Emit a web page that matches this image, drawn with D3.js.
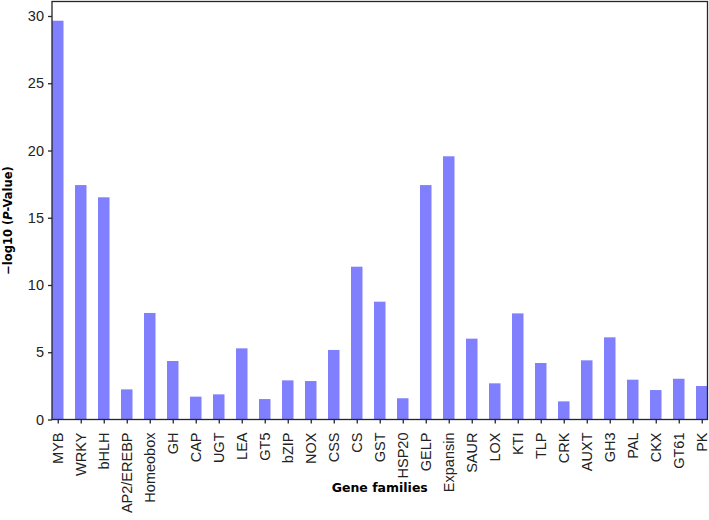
<!DOCTYPE html>
<html>
<head>
<meta charset="utf-8">
<script src="https://cdn.jsdelivr.net/npm/d3@7"></script>
<style>
  body { margin: 0; background: #fff; }
  svg { display: block; font-family: 'DejaVu Sans', sans-serif; }
</style>
</head>
<body>
<svg id="chart" width="709" height="520"></svg>
<script>
const families = ['MYB', 'WRKY', 'bHLH', 'AP2/EREBP', 'Homeobox', 'GH', 'CAP', 'UGT', 'LEA', 'GT5',
  'bZIP', 'NOX', 'CSS', 'CS', 'GST', 'HSP20', 'GELP', 'Expansin', 'SAUR', 'LOX',
  'KTI', 'TLP', 'CRK', 'AUXT', 'GH3', 'PAL', 'CKX', 'GT61', 'PK'];
const neg_log_p = [29.65, 17.43, 16.52, 2.24, 7.92, 4.35, 1.70, 1.87, 5.29, 1.52,
  2.91, 2.86, 5.17, 11.36, 8.76, 1.58, 17.43, 19.57, 6.01, 2.69,
  7.89, 4.20, 1.35, 4.40, 6.11, 2.96, 2.19, 3.03, 2.49];
const y_ticks = [0, 5, 10, 15, 20, 25, 30];

const svg = d3.select('#chart');
const margin = { top: 1.5, right: 1.5, bottom: 100.5, left: 52 };
const width = +svg.attr('width') - margin.left - margin.right;
const height = +svg.attr('height') - margin.top - margin.bottom;
const tick_len = 4;
const ink = '#262626';

// pandas-style bar positions: xlim = (-0.25, n - 0.75)
const x = d3.scaleLinear()
  .domain([-0.25, families.length - 0.75])
  .range([0, width]);
const bar_w = x(0.5) - x(0);

const y = d3.scaleLinear()
  .domain([0, 30])
  .range([height, 14.5]);

const g = svg.append('g')
  .attr('transform', `translate(${margin.left},${margin.top})`);

g.selectAll('rect.bar')
  .data(neg_log_p)
  .enter()
  .append('rect')
  .attr('class', 'bar')
  .attr('x', (d, i) => x(i) - bar_w / 2)
  .attr('y', d => y(d))
  .attr('width', bar_w)
  .attr('height', d => y(0) - y(d))
  .attr('fill', '#8080ff');

const yAxis = g.append('g')
  .call(d3.axisLeft(y).tickValues(y_ticks).tickSize(tick_len).tickPadding(4));
yAxis.select('.domain').remove();
yAxis.selectAll('.tick line')
  .attr('stroke', ink)
  .attr('stroke-width', 1.3);
yAxis.selectAll('text')
  .style('font-size', '14.5px')
  .attr('fill', '#222');

const xAxis = g.append('g')
  .attr('transform', `translate(0,${height})`)
  .call(d3.axisBottom(x).tickValues(d3.range(families.length)).tickFormat(i => families[i]).tickSize(tick_len).tickPadding(4));
xAxis.select('.domain').remove();
xAxis.selectAll('.tick line')
  .attr('stroke', ink)
  .attr('stroke-width', 1.3);
xAxis.selectAll('text')
  .style('font-size', '14.5px')
  .attr('fill', '#222')
  .attr('text-anchor', 'end')
  .attr('y', 0)
  .attr('x', -13)
  .attr('dy', '0.35em')
  .attr('transform', 'rotate(-90)');

// axes frame, on top of the bars
g.append('rect')
  .attr('class', 'frame')
  .attr('x', 0)
  .attr('y', 0)
  .attr('width', width)
  .attr('height', height)
  .attr('fill', 'none')
  .attr('stroke', ink)
  .attr('stroke-width', 1.3);

svg.append('text')
  .attr('x', margin.left + width / 2)
  .attr('y', 492)
  .attr('text-anchor', 'middle')
  .style('font-size', '12.5px')
  .style('font-weight', 'bold')
  .text('Gene families');

const ylab = svg.append('text')
  .attr('transform', `translate(12,${margin.top + height / 2 + 10}) rotate(-90)`)
  .attr('text-anchor', 'middle')
  .style('font-size', '11.5px')
  .style('font-weight', 'bold');
ylab.append('tspan').text('\u2212log10 (');
ylab.append('tspan').style('font-style', 'italic').text('P');
ylab.append('tspan').text('-Value)');
</script>
</body>
</html>
